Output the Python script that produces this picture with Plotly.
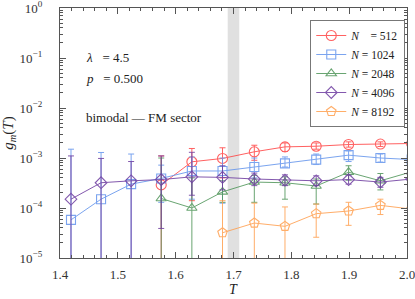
import plotly.graph_objects as go

# ---- data ----
T = [1.419, 1.471, 1.523, 1.575, 1.628, 1.681, 1.736, 1.789, 1.843, 1.899, 1.954, 2.008]

N_labels = ["512", "1024", "2048", "4096", "8192"]

# N = 512 (starts at index 3)
g512 = [2.9e-4, 8.4e-4, 9.8e-4, 1.33e-3, 1.67e-3, 1.72e-3, 1.86e-3, 1.9e-3, 1.95e-3]
hi512 = [1.1e-3, 1.55e-3, 1.6e-3, 1.8e-3, 2.0e-3, 2.0e-3, 2.1e-3, 2.1e-3, 2.15e-3]
lo512 = [1e-7, 1.4e-4, 4e-4, 9e-4, 1.35e-3, 1.5e-3, 1.65e-3, 1.7e-3, 1.75e-3]

# N = 1024
g1024 = [5.8e-5, 1.5e-4, 3.0e-4, 3.9e-4, 5.5e-4, 5.5e-4, 6.6e-4, 7.8e-4, 9.3e-4, 1.14e-3, 1.0e-3, 9.3e-4]
hi1024 = [1.5e-3, 1.29e-3, 1.2e-3, 7.2e-4, 1.05e-3, 1.0e-3, 1.0e-3, 1.05e-3, 1.2e-3, 1.39e-3, 1.2e-3, 1.1e-3]
lo1024 = [1e-7, 1e-7, 1e-7, 1.3e-4, 1.5e-4, 1.25e-4, 4e-4, 6.6e-4, 7.4e-4, 8.5e-4, 8.3e-4, 7.5e-4]

# N = 2048 (starts at index 3)
g2048 = [1.55e-4, 1.0e-4, 2.1e-4, 3.3e-4, 3.2e-4, 2.75e-4, 5.2e-4, 3.5e-4, 5.3e-4]
hi2048 = [1.0e-3, 4.0e-4, 3.5e-4, 4.5e-4, 4.2e-4, 3.8e-4, 7.0e-4, 4.9e-4, 6.5e-4]
lo2048 = [1e-7, 1e-7, 1.3e-4, 1.3e-4, 1.5e-4, 1.2e-4, 3.6e-4, 2.3e-4, 4.0e-4]

# N = 4096
g4096 = [1.5e-4, 3.2e-4, 3.5e-4, 3.7e-4, 4.2e-4, 4.1e-4, 3.8e-4, 3.6e-4, 3.5e-4, 3.7e-4, 3.3e-4, 3.8e-4]
hi4096 = [1.1e-3, 9.8e-4, 8.5e-4, 1.1e-3, 1.3e-3, 7.0e-4, 5.0e-4, 4.6e-4, 4.4e-4, 4.5e-4, 4.1e-4, 4.6e-4]
lo4096 = [1e-7, 1e-7, 1e-7, 3.9e-5, 1.8e-4, 2.3e-4, 2.8e-4, 2.8e-4, 2.8e-4, 3.0e-4, 2.6e-4, 3.1e-4]

# N = 8192 (starts at index 5)
g8192 = [3.2e-5, 5.0e-5, 4.3e-5, 7.7e-5, 8.7e-5, 1.13e-4, 9.5e-5]
hi8192 = [1.4e-4, 1.25e-4, 1.05e-4, 1.2e-4, 1.3e-4, 1.5e-4, 1.3e-4]
lo8192 = [1e-7, 1e-7, 1e-7, 2.6e-5, 4.5e-5, 7.4e-5, 6.0e-5]

ytick_vals = [1e-5, 1e-4, 1e-3, 1e-2, 1e-1, 1e0]
ytick_text = ["10<sup>−5</sup>", "10<sup>−4</sup>", "10<sup>−3</sup>",
              "10<sup>−2</sup>", "10<sup>−1</sup>", "10<sup>0</sup>"]
xtick_vals = [1.4, 1.5, 1.6, 1.7, 1.8, 1.9, 2.0]
xtick_text = ["1.4", "1.5", "1.6", "1.7", "1.8", "1.9", "2.0"]

band = (1.69, 1.71)

# ---- styling ----
FONT = "Liberation Serif"
series = [
    (N_labels[0], 3, g512, hi512, lo512, "rgb(255,70,70)", "circle-open", 10),
    (N_labels[1], 0, g1024, hi1024, lo1024, "rgb(100,149,237)", "square-open", 9),
    (N_labels[2], 3, g2048, hi2048, lo2048, "rgb(80,150,90)", "triangle-up-open", 9),
    (N_labels[3], 0, g4096, hi4096, lo4096, "rgb(110,60,160)", "diamond-open", 9),
    (N_labels[4], 5, g8192, hi8192, lo8192, "rgb(255,160,80)", "pentagon-open", 10),
]

fig = go.Figure()

for name, start, g, hi, lo, col, sym, msz in series:
    xs = T[start:start + len(g)]
    plus = [h - v for h, v in zip(hi, g)]
    minus = [v - l for v, l in zip(g, lo)]
    pad = "&nbsp;&nbsp;&nbsp;" if len(name) == 3 else ""
    fig.add_trace(go.Scatter(
        x=xs, y=g, mode="lines+markers",
        name=f"<i>N</i> {pad}= {name}",
        line=dict(color=col, width=1),
        marker=dict(symbol=sym, size=msz, color=col, line=dict(width=1.1, color=col)),
        error_y=dict(type="data", symmetric=False, array=plus, arrayminus=minus,
                     color=col, thickness=1, width=3),
        opacity=0.85,
    ))

fig.add_shape(type="rect", xref="x", yref="paper", x0=band[0], x1=band[1], y0=0, y1=1,
              fillcolor="rgb(224,224,224)", line=dict(width=0), layer="below")

ann_font = dict(family=FONT, size=13, color="#222")
fig.add_annotation(x=0.069, y=0.80, xref="paper", yref="paper", xanchor="left", yanchor="middle",
                   text="<i>λ</i>&nbsp;&nbsp;&nbsp;= 4.5", showarrow=False, font=ann_font)
fig.add_annotation(x=0.069, y=0.72, xref="paper", yref="paper", xanchor="left", yanchor="middle",
                   text="<i>p</i>&nbsp;&nbsp;&nbsp;= 0.500", showarrow=False, font=ann_font)
fig.add_annotation(x=0.069, y=0.564, xref="paper", yref="paper", xanchor="left", yanchor="middle",
                   text="bimodal — FM sector", showarrow=False, font=ann_font)
# x-axis title placed close under the tick labels, as in the reference
fig.add_annotation(x=0.5, y=-0.124, xref="paper", yref="paper", xanchor="center", yanchor="middle",
                   text="<i>T</i>", showarrow=False, font=dict(family=FONT, size=14, color="#222"))

axis_common = dict(showline=True, linecolor="#555", linewidth=1.3, mirror="allticks",
                   ticks="inside", tickcolor="#555", showgrid=False, zeroline=False,
                   automargin=False, ticklabeloverflow="allow",
                   tickfont=dict(family=FONT, size=13, color="#333"))

fig.update_xaxes(range=[1.4, 2.0], tickvals=xtick_vals, ticktext=xtick_text,
                 ticklen=6, ticklabelstandoff=4,
                 minor=dict(dtick=0.02, ticks="inside", ticklen=3, tickcolor="#555", showgrid=False),
                 **axis_common)
minor_y = [m * 10 ** e for e in range(-5, 0) for m in range(2, 10)]
fig.update_yaxes(type="log", range=[-5, 0], tickvals=ytick_vals, ticktext=ytick_text,
                 ticklen=6, ticklabelstandoff=14,
                 minor=dict(tickvals=minor_y, ticks="inside", ticklen=3, tickcolor="#555", showgrid=False),
                 title=dict(text="<i>g<sub>m</sub></i>(<i>T</i>)", font=dict(family=FONT, size=15, color="#222"),
                            standoff=4),
                 **axis_common)

fig.update_layout(
    width=415, height=299,
    margin=dict(l=60, r=8, t=8, b=41),
    plot_bgcolor="white", paper_bgcolor="white",
    showlegend=True,
    legend=dict(x=0.995, y=0.952, xanchor="right", yanchor="top",
                bgcolor="white", bordercolor="#777", borderwidth=1,
                font=dict(family=FONT, size=11.5, color="#222"),
                tracegroupgap=0),
)

fig.write_html("out.html", config={"displayModeBar": False},
               post_script="document.body.style.margin='0';document.body.style.overflow='hidden';")
